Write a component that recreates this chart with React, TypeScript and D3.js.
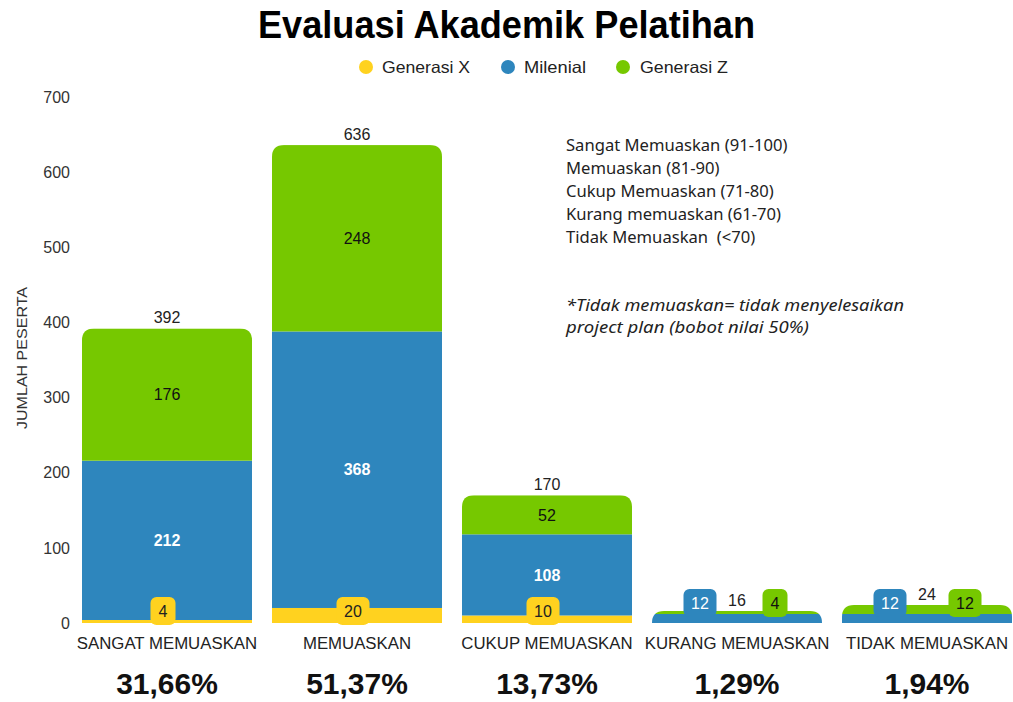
import React from "react";
import * as d3 from "d3";

const categories = ["SANGAT MEMUASKAN", "MEMUASKAN", "CUKUP MEMUASKAN", "KURANG MEMUASKAN", "TIDAK MEMUASKAN"];
const seriesNames = ["Generasi X", "Milenial", "Generasi Z"];
const generasiX = [4, 20, 10, 0, 0];
const milenial = [212, 368, 108, 12, 12];
const generasiZ = [176, 248, 52, 4, 12];
const totals = [392, 636, 170, 16, 24];
const percentages = ["31,66%", "51,37%", "13,73%", "1,29%", "1,94%"];
const yTicks = [0, 100, 200, 300, 400, 500, 600, 700];
const notes = [
  "Sangat Memuaskan (91-100)",
  "Memuaskan (81-90)",
  "Cukup Memuaskan (71-80)",
  "Kurang memuaskan (61-70)",
  "Tidak Memuaskan  (<70)",
];
const italicNotes = ["*Tidak memuaskan= tidak menyelesaikan", "project plan (bobot nilai 50%)"];

const colors = ["#FFD21F", "#2E86BD", "#76C800"];
const sans = "'Liberation Sans', Arial, sans-serif";
const noteFont = "'Noto Sans', 'Open Sans', sans-serif";

export default function App() {
  const W = 1013, H = 702;
  const x = d3.scaleBand<string>().domain(categories).range([72, 1022]).paddingInner(0.105).paddingOuter(0.0525);
  const y = d3.scaleLinear().domain([0, 700]).range([623, 97]);
  const data = categories.map((c, i) => ({ c, X: generasiX[i], M: milenial[i], Z: generasiZ[i] }));
  const stack = d3.stack<any>().keys(["X", "M", "Z"])(data);
  const bw = x.bandwidth();

  const topPath = (x0: number, w: number, yTop: number, yBot: number) => {
    const h = yBot - yTop;
    const r = Math.min(12, h, w / 2);
    return `M${x0},${yBot}V${yTop + r}Q${x0},${yTop} ${x0 + r},${yTop}H${x0 + w - r}Q${x0 + w},${yTop} ${x0 + w},${yTop + r}V${yBot}Z`;
  };

  const box = (cx: number, cy: number, text: string, fill: string, tcol: string, key: string) => {
    const w = text.length === 1 ? 25 : 33;
    return (
      <g key={key}>
        <rect x={cx - w / 2} y={cy - 14} width={w} height={28} rx={6} fill={fill} />
        <text x={cx} y={cy} dy="0.36em" textAnchor="middle" fontFamily={sans} fontSize={16} fill={tcol}>{text}</text>
      </g>
    );
  };

  const legend = [
    { cx: 366, tx: 382, w: 88 },
    { cx: 508, tx: 524, w: 62 },
    { cx: 623, tx: 640, w: 88 },
  ];

  return (
    <svg width={W} height={H} style={{ position: "absolute", left: 0, top: 0, background: "#fff" }}>
      <defs>
        {categories.map((c, i) => (
          <clipPath id={`clip${i}`} key={c}>
            <path d={topPath(x(c)!, bw, y(totals[i]), y(0))} />
          </clipPath>
        ))}
      </defs>
      <text x={258} y={38} textLength={497} lengthAdjust="spacingAndGlyphs" fontFamily={sans} fontWeight="bold" fontSize={38} fill="#000">Evaluasi Akademik Pelatihan</text>
      {legend.map((p, i) => (
        <g key={i}>
          <circle cx={p.cx} cy={67} r={7} fill={colors[i]} />
          <text x={p.tx} y={67} dy="0.36em" textLength={p.w} lengthAdjust="spacingAndGlyphs" fontFamily={sans} fontSize={16.5} fill="#222">{seriesNames[i]}</text>
        </g>
      ))}
      {yTicks.map((t) => (
        <text key={t} x={70} y={y(t)} dy="0.36em" textAnchor="end" fontFamily={sans} fontSize={16} fill="#333">{t}</text>
      ))}
      <text transform={`translate(27,358) rotate(-90)`} x={-71} textLength={142} lengthAdjust="spacingAndGlyphs" fontFamily={sans} fontSize={14} fill="#333">JUMLAH PESERTA</text>

      {categories.map((c, i) => (
        <g key={c} clipPath={`url(#clip${i})`}>
          {stack.map((s, k) => {
            const d = s[i];
            if (d[1] - d[0] <= 0) return null;
            return <rect key={k} x={x(c)!} y={y(d[1])} width={bw} height={y(d[0]) - y(d[1])} fill={colors[k]} />;
          })}
        </g>
      ))}

      {categories.map((c, i) => {
        const cx = x(c)! + bw / 2;
        const big = totals[i] > 100;
        const items: any[] = [];
        if (big) {
          const mMid = (stack[1][i][0] + stack[1][i][1]) / 2;
          const zMid = (stack[2][i][0] + stack[2][i][1]) / 2;
          items.push(<text key="m" x={cx} y={y(mMid)} dy="0.36em" textAnchor="middle" fontFamily={sans} fontWeight="bold" fontSize={16} fill="#fff">{milenial[i]}</text>);
          items.push(<text key="z" x={cx} y={y(zMid)} dy="0.36em" textAnchor="middle" fontFamily={sans} fontSize={16} fill="#111">{generasiZ[i]}</text>);
          items.push(box(cx - 4, 611, String(generasiX[i]), colors[0], "#222", "x"));
        } else {
          items.push(box(cx - 37, 603, String(milenial[i]), colors[1], "#fff", "m"));
          items.push(box(cx + 38, 603, String(generasiZ[i]), colors[2], "#111", "z"));
        }
        items.push(<text key="t" x={cx} y={y(totals[i]) - 5} textAnchor="middle" fontFamily={sans} fontSize={16} fill="#222">{totals[i]}</text>);
        return (
          <g key={c}>
            {items}
            <text x={cx} y={649} textAnchor="middle" fontFamily={sans} fontSize={16.8} fill="#222">{c}</text>
            <text x={cx} y={694} textAnchor="middle" fontFamily={sans} fontWeight="bold" fontSize={30} fill="#111">{percentages[i]}</text>
          </g>
        );
      })}

      {notes.map((n, i) => (
        <text key={n} x={566} y={151 + i * 23} style={{ whiteSpace: "pre" }} fontFamily={noteFont} fontSize={16.6} fill="#222">{n}</text>
      ))}
      {italicNotes.map((n, i) => (
        <text key={n} x={566} y={311 + i * 22} textLength={i === 0 ? 338 : 243} lengthAdjust="spacingAndGlyphs" fontFamily={noteFont} fontStyle="italic" fontSize={16} fill="#222">{n}</text>
      ))}
    </svg>
  );
}
